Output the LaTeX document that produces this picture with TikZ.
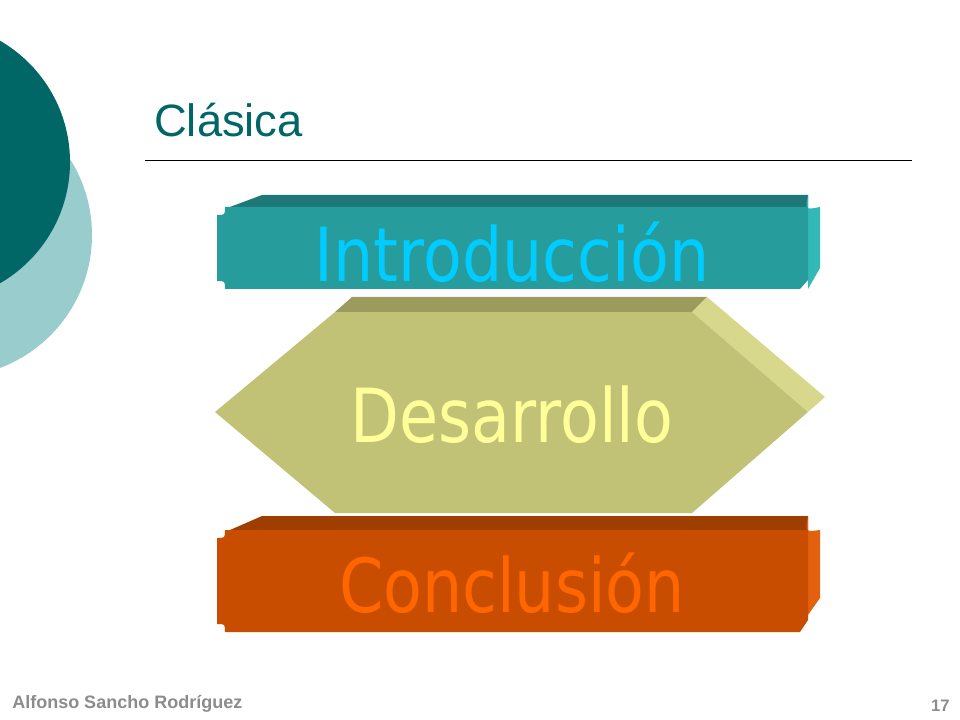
\documentclass[tikz,border=0pt]{standalone}
\usepackage{fontspec}
\setmainfont{Liberation Sans}
\newfontfamily\verd{DejaVu Sans}
\definecolor{tealdark}{HTML}{006666}
\definecolor{teallight}{HTML}{99CCCC}
\definecolor{introfront}{HTML}{279C9C}
\definecolor{introtop}{HTML}{1F7878}
\definecolor{introside}{HTML}{33B8B8}
\definecolor{introtext}{HTML}{00CCFF}
\definecolor{desfront}{HTML}{C2C277}
\definecolor{destop}{HTML}{9C9A5C}
\definecolor{desside}{HTML}{D8D88C}
\definecolor{destext}{HTML}{FFFF99}
\definecolor{concfront}{HTML}{C84D00}
\definecolor{conctop}{HTML}{9E3E00}
\definecolor{concside}{HTML}{E3600F}
\definecolor{conctext}{HTML}{FF6600}
\begin{document}
\begin{tikzpicture}[x=0.75pt, y=-0.75pt,
    bigword/.style={font=\verd\fontsize{56}{60}\selectfont, inner sep=0pt, xscale=0.85}]
        \useasboundingbox (0,0) rectangle (960,720);
        % left circles
        \fill[teallight] (-50,235) circle (142);
        \fill[tealdark] (-70,162) circle (140);
        % title
        \node[anchor=base west, text=tealdark, font=\fontsize{34}{38}\selectfont, inner sep=0pt] (title) at (154,137) {Clásica};
        \draw[black, line width=0.6pt] (145,160) -- (912,160);
        % Introduccion bar
        \fill[introtop] (230,207) -- (262,195) -- (808,195) -- (808,207) -- cycle;
        \fill[introside] (808,207) -- (808,195) .. controls (805,210) .. (820,207) -- (820,268) -- (808,289) -- cycle;
        \fill[introfront] (225,207) -- (808,207) -- (808,280) -- (800,289) -- (225,289) .. controls (225,281) .. (217,281) -- (217,215) .. controls (225,215) .. cycle;
        % Desarrollo hexagon
        \fill[destop] (335,312) -- (352,297) -- (707,297) -- (692,312) -- cycle;
        \fill[desside] (692,312) -- (707,297) -- (825,397) -- (808,412) -- cycle;
        \fill[desfront] (215,412) -- (335,312) -- (692,312) -- (808,412) -- (692,513) -- (335,513) -- cycle;
        % Conclusion bar
        \fill[conctop] (230,530) -- (262,516) -- (808,516) -- (808,530) -- cycle;
        \fill[concside] (808,530) -- (808,516) .. controls (805,532) .. (820,530) -- (820,598) -- (808,615) -- cycle;
        \fill[concfront] (225,530) -- (808,530) -- (808,620) -- (800,632) -- (225,632) .. controls (225,624) .. (217,624) -- (217,538) .. controls (225,538) .. cycle;
        % labels
        \foreach \name/\y/\txt/\col in {intro/252/Introducción/introtext, des/415/Desarrollo/destext, conc/583/Conclusión/conctext}{
            \node[bigword, text=\col] (\name) at (512,\y) {\txt};
        }
        % footer
        \node[anchor=base west, text=black!45, font=\bfseries\fontsize{13.5}{15}\selectfont, inner sep=0pt] (author) at (12,708) {Alfonso Sancho Rodríguez};
        \node[anchor=base east, text=black!45, font=\bfseries\fontsize{12.5}{14}\selectfont, inner sep=0pt] (page) at (950,711) {17};
\end{tikzpicture}
\end{document}
